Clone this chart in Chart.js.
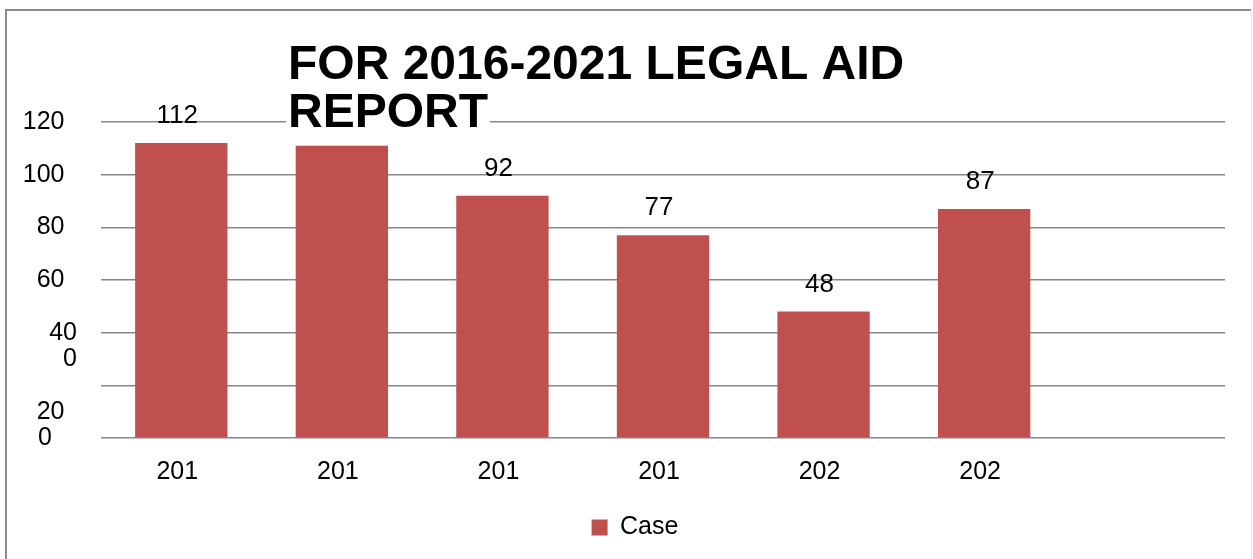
<!DOCTYPE html>
<html>
<head>
<meta charset="utf-8">
<script src="https://cdn.jsdelivr.net/npm/chart.js@4.4.0/dist/chart.umd.min.js"></script>
<style>
  html, body { margin: 0; padding: 0; background: #fff; }
  #wrap { width: 1253px; height: 559px; position: relative; }
</style>
</head>
<body>
<div id="wrap"><canvas id="c" width="1253" height="559"></canvas></div>
<script>
// ---- data ----
const categories = ['2016', '2017', '2018', '2019', '2020', '2021', ''];
const xTickLabels = ['201', '201', '201', '201', '202', '202', ''];
const caseValues = [112, 111, 92, 77, 48, 87, null];
const seriesName = 'Case';
const titleLines = ['FOR 2016-2021 LEGAL AID', 'REPORT'];
const yTickValues = [0, 20, 40, 60, 80, 100, 120];
const EN = '\u2002';
const yTickLabels = [
  ['0' + EN + EN],
  ['', '', '20' + EN],
  ['', '40', '0'],
  ['60' + EN],
  ['80' + EN],
  ['100' + EN],
  ['120' + EN]
];

const FONT = "'Liberation Sans', Arial, sans-serif";
const BAR_COLOR = '#C0504D';
const GRID_COLOR = '#878787';

const bgPlugin = {
  id: 'bg',
  beforeDraw(chart) {
    const ctx = chart.ctx;
    ctx.save();
    ctx.fillStyle = '#ffffff';
    ctx.fillRect(0, 0, chart.width, chart.height);
    ctx.strokeStyle = '#8c8c8c';
    ctx.lineWidth = 2;
    ctx.beginPath();
    ctx.moveTo(6, chart.height + 5);
    ctx.lineTo(6, 10);
    ctx.lineTo(1251, 10);
    ctx.stroke();
    ctx.strokeStyle = '#e6e6e6';
    ctx.lineWidth = 1;
    ctx.beginPath();
    ctx.moveTo(1251.5, 10);
    ctx.lineTo(1251.5, chart.height + 5);
    ctx.stroke();
    ctx.restore();
  }
};

const valueLabelPlugin = {
  id: 'valueLabels',
  afterDatasetsDraw(chart) {
    const ctx = chart.ctx;
    const meta = chart.getDatasetMeta(0);
    ctx.save();
    ctx.font = '26px ' + FONT;
    ctx.fillStyle = '#000';
    ctx.textAlign = 'center';
    ctx.textBaseline = 'middle';
    meta.data.forEach((bar, i) => {
      const v = caseValues[i];
      if (v === null || v === undefined) return;
      ctx.fillText(String(v), bar.x - 4, bar.y - 27);
    });
    ctx.restore();
  }
};

const titlePlugin = {
  id: 'overTitle',
  afterDraw(chart) {
    const ctx = chart.ctx;
    ctx.save();
    ctx.font = 'bold 48px ' + FONT;
    ctx.textAlign = 'left';
    ctx.textBaseline = 'alphabetic';
    const x = 288;
    const baselines = [79, 127];
    titleLines.forEach((t, i) => {
      const w = ctx.measureText(t).width;
      ctx.fillStyle = '#ffffff';
      ctx.fillRect(x - 2, baselines[i] - 35, w + 4, 40);
    });
    ctx.fillStyle = '#000000';
    titleLines.forEach((t, i) => ctx.fillText(t, x, baselines[i]));
    ctx.restore();
  }
};

new Chart(document.getElementById('c'), {
  type: 'bar',
  data: {
    labels: categories,
    datasets: [{
      label: seriesName,
      data: caseValues,
      backgroundColor: BAR_COLOR,
      borderWidth: 0,
      categoryPercentage: 1.0,
      barPercentage: 0.575
    }]
  },
  options: {
    responsive: false,
    animation: false,
    devicePixelRatio: 1,
    layout: { padding: { left: 20, right: 3, top: 122, bottom: 9 } },
    plugins: {
      title: { display: false },
      tooltip: { enabled: false },
      legend: {
        display: true,
        position: 'bottom',
        labels: {
          boxWidth: 16,
          boxHeight: 16,
          padding: 10,
          color: '#000',
          font: { family: FONT, size: 25 }
        }
      }
    },
    scales: {
      x: {
        grid: { display: false, drawTicks: false },
        border: { display: false },
        ticks: {
          padding: 19,
          labelOffset: -4,
          color: '#000',
          maxRotation: 0,
          autoSkip: false,
          font: { family: FONT, size: 25 },
          callback: (v, i) => xTickLabels[i]
        },
        afterFit(scale) { scale.height = 67; }
      },
      y: {
        min: 0,
        max: 120,
        grid: { color: GRID_COLOR, lineWidth: 1.5, drawTicks: false },
        border: { display: false },
        ticks: {
          stepSize: 20,
          padding: 24,
          autoSkip: false,
          color: '#000',
          crossAlign: 'near',
          font: { family: FONT, size: 25, lineHeight: 1.06 },
          callback: (v) => {
            const idx = yTickValues.indexOf(v);
            return idx >= 0 ? yTickLabels[idx] : '';
          }
        },
        afterFit(scale) { scale.width = 81; }
      },
      yRight: {
        position: 'right',
        display: true,
        min: 0,
        max: 120,
        grid: { display: false, drawTicks: false },
        border: { display: false },
        ticks: { display: false },
        afterFit(scale) { scale.width = 25; }
      }
    }
  },
  plugins: [bgPlugin, valueLabelPlugin, titlePlugin]
});
</script>
</body>
</html>
